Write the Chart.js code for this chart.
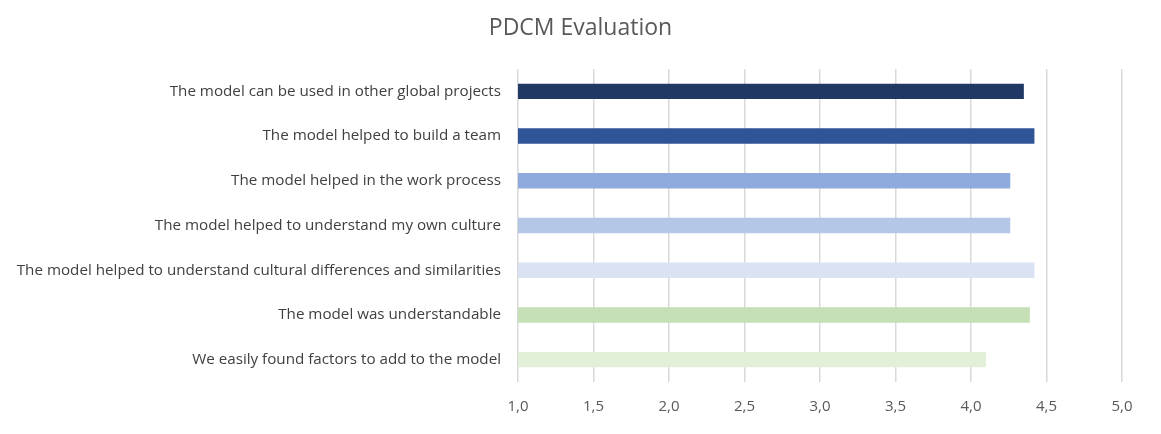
<!DOCTYPE html>
<html lang="en">
<head>
    <meta charset="UTF-8">
    <title>PDCM Evaluation</title>
    <script src="https://cdn.jsdelivr.net/npm/chart.js@4.4.1/dist/chart.umd.min.js"></script>
    <style>
        html, body { margin: 0; padding: 0; background: #fff; }
        #wrap { width: 1161px; height: 434px; }
    </style>
</head>
<body>
    <div id="wrap"><canvas id="pdcmChart"></canvas></div>

    <script>
        // Data
        const statements = [
            'The model can be used in other global projects',
            'The model helped to build a team',
            'The model helped in the work process',
            'The model helped to understand my own culture',
            'The model helped to understand cultural differences and similarities',
            'The model was understandable',
            'We easily found factors to add to the model'
        ];
        const scores = [4.35, 4.42, 4.26, 4.26, 4.42, 4.39, 4.10];
        const barColors = ['#203864', '#2F5597', '#8FAADC', '#B4C7E7', '#DAE3F3', '#C5E0B4', '#E2F0D9'];
        const axisMin = 1, axisMax = 5, axisStep = 0.5;
        const chartTitle = 'PDCM Evaluation';

        Chart.defaults.font.family = '"Open Sans", Lato, sans-serif';

        // Title centred on the whole page (the built-in one centres inside the padding)
        const pageTitle = {
            id: 'pageTitle',
            afterDraw(chart) {
                const c = chart.ctx;
                c.save();
                c.font = '23px "Open Sans", Lato, sans-serif';
                c.fillStyle = '#595959';
                c.textAlign = 'center';
                c.textBaseline = 'middle';
                c.fillText(chartTitle, chart.width / 2, 28);
                c.restore();
            }
        };

        const ctx = document.getElementById('pdcmChart').getContext('2d');
        new Chart(ctx, {
            type: 'bar',
            data: {
                labels: statements,
                datasets: [{
                    label: 'Score',
                    data: scores,
                    backgroundColor: barColors,
                    barPercentage: 0.345,
                    categoryPercentage: 1
                }]
            },
            options: {
                indexAxis: 'y',
                responsive: true,
                maintainAspectRatio: false,
                animation: false,
                layout: { padding: { left: 0, right: 39, top: 69, bottom: 0 } },
                plugins: {
                    legend: { display: false },
                    tooltip: { enabled: false },
                    title: { display: false }
                },
                scales: {
                    x: {
                        min: axisMin,
                        max: axisMax,
                        border: { display: false },
                        grid: { color: '#d9d9d9', lineWidth: 1.5, drawTicks: false },
                        ticks: {
                            stepSize: axisStep,
                            color: '#595959',
                            font: { size: 15 },
                            padding: 16,
                            callback: v => v.toFixed(1).replace('.', ',')
                        },
                        afterFit: s => { s.height = 52; }
                    },
                    y: {
                        border: { display: false },
                        grid: { display: false, drawTicks: false },
                        ticks: { color: '#404040', font: { size: 15.2 }, padding: 17 },
                        afterFit: s => { s.width = 518; }
                    }
                }
            },
            plugins: [pageTitle]
        });
    </script>
</body>
</html>
